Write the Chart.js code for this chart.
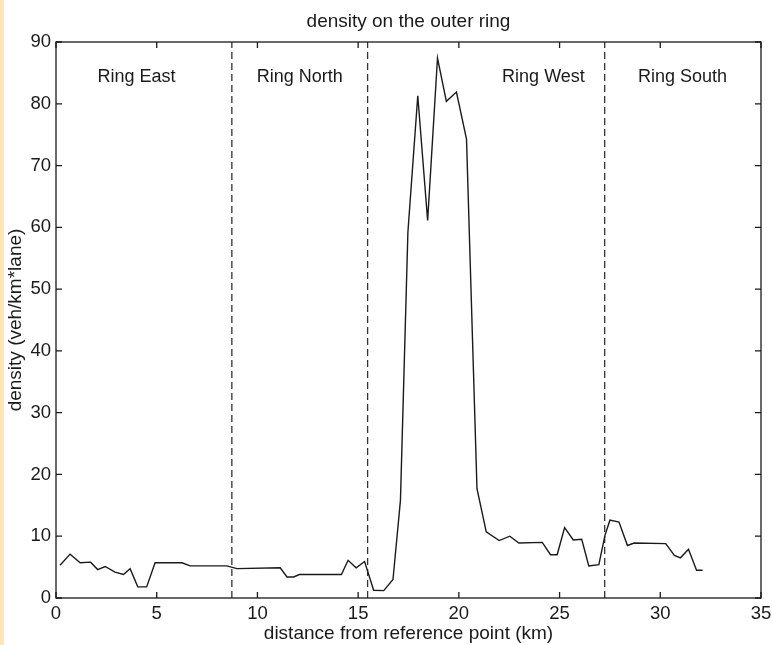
<!DOCTYPE html>
<html>
<head>
<meta charset="utf-8">
<script src="https://cdn.jsdelivr.net/npm/chart.js@4/dist/chart.umd.min.js"></script>
<style>
html,body{margin:0;padding:0;background:#fff;}
canvas{display:block;}
</style>
</head>
<body>
<canvas id="c" width="772" height="645"></canvas>
<script>
// ---- data ----
const distanceKm = [0.2,0.7,1.2,1.72,2.07,2.44,2.93,3.35,3.68,4.06,4.5,4.92,6.25,6.66,8.48,8.98,11.13,11.47,11.8,12.08,14.17,14.5,14.9,15.32,15.77,16.27,16.73,17.1,17.47,17.96,18.45,18.94,19.38,19.88,20.38,20.9,21.36,22.0,22.53,22.98,24.14,24.55,24.88,25.25,25.68,26.1,26.45,26.95,27.25,27.5,27.95,28.37,28.7,30.27,30.7,31.0,31.4,31.8,32.1];
const densityValues = [5.3,7.1,5.7,5.8,4.6,5.1,4.2,3.8,4.75,1.8,1.8,5.7,5.7,5.2,5.2,4.75,4.9,3.4,3.4,3.8,3.8,6.1,4.9,5.9,1.25,1.2,3.0,15.8,59.2,81.3,61.1,87.4,80.4,81.9,74.3,17.7,10.7,9.3,10.0,8.9,9.0,7.0,7.0,11.4,9.4,9.5,5.2,5.4,10.1,12.6,12.3,8.5,8.9,8.8,6.9,6.5,7.9,4.5,4.5];
const boundaryKm = [8.73, 15.47, 27.24];
const regionNames = ["Ring East", "Ring North", "Ring West", "Ring South"];
const regionCenterKm = [4.0, 12.1, 24.2, 31.1];
const regionLabelLevel = 83.5;
const xTicks = [0,5,10,15,20,25,30,35];
const yTicks = [0,10,20,30,40,50,60,70,80,90];

const FONT = "'Liberation Sans', Arial, Helvetica, sans-serif";
const INK = '#1a1a1a';

const datasets = [{
  label: 'density',
  data: distanceKm.map((x, i) => ({x: x, y: densityValues[i]})),
  borderColor: INK,
  borderWidth: 1.4,
  pointRadius: 0,
  tension: 0,
  fill: false
}];
boundaryKm.forEach((b) => {
  datasets.push({
    label: 'boundary',
    data: [{x: b, y: 0}, {x: b, y: 90}],
    borderColor: '#333',
    borderWidth: 1.3,
    borderDash: [7, 4],
    pointRadius: 0,
    fill: false
  });
});

const framePlugin = {
  id: 'frame',
  beforeDraw(chart) {
    const ctx = chart.ctx;
    ctx.save();
    ctx.fillStyle = '#fff';
    ctx.fillRect(0, 0, chart.width, chart.height);
    ctx.fillStyle = '#FFE7B4';
    ctx.fillRect(0, 0, 4, chart.height);
    ctx.restore();
  },
  afterDatasetsDraw(chart) {
    const ctx = chart.ctx;
    const a = chart.chartArea;
    const xs = chart.scales.x, ys = chart.scales.y;
    ctx.save();
    ctx.strokeStyle = INK;
    ctx.lineWidth = 1.3;
    ctx.strokeRect(a.left, a.top, a.right - a.left, a.bottom - a.top);
    const L = 6;
    ctx.beginPath();
    xTicks.forEach(v => {
      const px = xs.getPixelForValue(v);
      ctx.moveTo(px, a.bottom); ctx.lineTo(px, a.bottom - L);
      ctx.moveTo(px, a.top); ctx.lineTo(px, a.top + L);
    });
    yTicks.forEach(v => {
      const py = ys.getPixelForValue(v);
      ctx.moveTo(a.left, py); ctx.lineTo(a.left + L, py);
      ctx.moveTo(a.right, py); ctx.lineTo(a.right - L, py);
    });
    ctx.stroke();
    // region labels
    ctx.fillStyle = INK;
    ctx.font = '18px ' + FONT;
    ctx.textAlign = 'center';
    ctx.textBaseline = 'alphabetic';
    regionNames.forEach((n, i) => {
      ctx.fillText(n, xs.getPixelForValue(regionCenterKm[i]), ys.getPixelForValue(regionLabelLevel));
    });
    ctx.restore();
  }
};

new Chart(document.getElementById('c'), {
  type: 'line',
  data: { datasets },
  plugins: [framePlugin],
  options: {
    responsive: false,
    animation: false,
    layout: { padding: { left: 0, right: 11, top: 0, bottom: 0 } },
    plugins: {
      legend: { display: false },
      tooltip: { enabled: false },
      title: {
        display: true,
        text: 'density on the outer ring',
        fullSize: false,
        color: INK,
        font: { family: FONT, size: 19, weight: 'normal' },
        padding: { top: 10.5, bottom: 8.7 }
      }
    },
    scales: {
      x: {
        type: 'linear',
        min: 0, max: 35,
        afterFit(s) { s.height = 47; s.paddingLeft = 0; s.paddingRight = 0; },
        afterBuildTicks(s) { s.ticks = xTicks.map(v => ({value: v})); },
        grid: { display: false, drawTicks: false },
        border: { display: false },
        ticks: { color: INK, font: { family: FONT, size: 18.5 }, padding: 5, maxRotation: 0 },
        title: {
          display: true,
          text: 'distance from reference point (km)',
          color: INK,
          font: { family: FONT, size: 19 },
          padding: { top: 0, bottom: 0 }
        }
      },
      y: {
        type: 'linear',
        min: 0, max: 90,
        afterFit(s) { s.width = 56; s.paddingTop = 0; s.paddingBottom = 0; },
        afterBuildTicks(s) { s.ticks = yTicks.map(v => ({value: v})); },
        grid: { display: false, drawTicks: false },
        border: { display: false },
        ticks: { color: INK, font: { family: FONT, size: 18.5 }, padding: 5 },
        title: {
          display: true,
          text: 'density (veh/km*lane)',
          color: INK,
          font: { family: FONT, size: 19 },
          padding: { top: 4, bottom: 0 }
        }
      }
    }
  }
});
</script>
</body>
</html>
